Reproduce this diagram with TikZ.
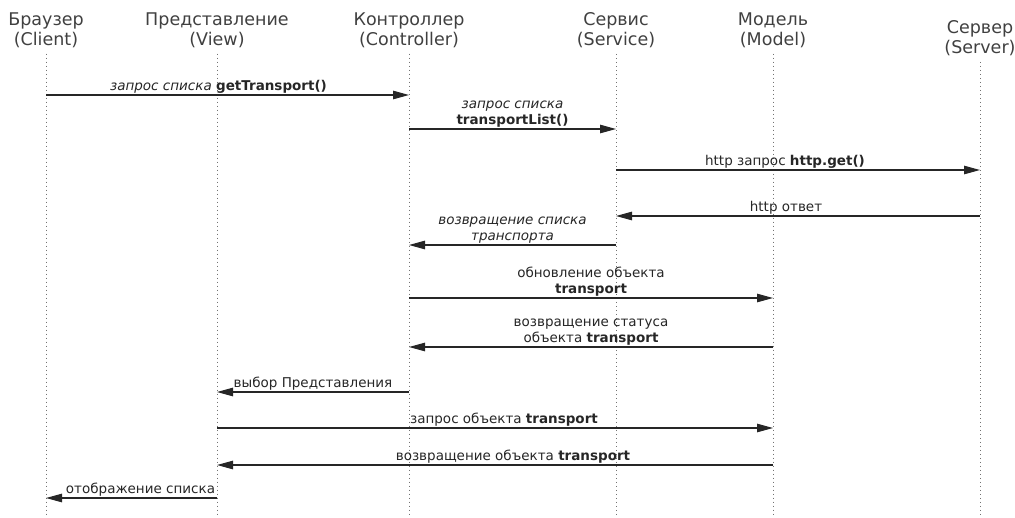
\documentclass[tikz,border=0pt]{standalone}
\usepackage{fontspec}
\setmainfont{DejaVu Sans}
\usetikzlibrary{positioning,calc,arrows.meta}
\tikzset{>={Triangle[length=16pt,width=8.5pt]}}
\tikzset{
  actor/.style={align=center,font=\fontsize{17.5}{20}\selectfont,text=black!75,inner sep=0pt},
  life/.style={dash pattern=on 1pt off 3pt,black!55,line width=0.9pt},
  msg/.style={->,line width=1.1pt,black!85},
  lbl/.style={font=\fontsize{13.5}{16.5}\selectfont,text=black!85,align=center,inner sep=1pt},
}

\begin{document}
\begin{tikzpicture}[x=1pt,y=-1pt]
\useasboundingbox (0,0) rectangle (1015,517);
\node[actor] (brw) at (46,30) {Браузер\\(Client)};
\node[actor] (view) at (217,30) {Представление\\(View)};
\node[actor] (ctl) at (409,30) {Контроллер\\(Controller)};
\node[actor] (srv) at (616,30) {Сервис\\(Service)};
\node[actor] (mdl) at (773,30) {Модель\\(Model)};
\node[actor] (web) at (980,38) {Сервер\\(Server)};
\foreach \a in {brw,view,ctl,srv,mdl,web}
  \draw[life] ([yshift=-6pt]\a.south) -- (\a.south |- 0,517);
\draw[msg] (brw |- 0,95) -- node[lbl,above,xshift=-9pt] {\itshape запрос списка \bfseries\upshape getTransport()} (ctl |- 0,95);
\draw[msg] (ctl |- 0,129) -- node[lbl,above] {\itshape запрос списка\\\bfseries transportList()} (srv |- 0,129);
\draw[msg] (srv |- 0,170) -- node[lbl,above,xshift=-13pt] {http запрос \bfseries http.get()} (web |- 0,170);
\draw[msg] (web |- 0,216) -- node[lbl,above,xshift=-12pt] {http ответ} (srv |- 0,216);
\draw[msg] (srv |- 0,245) -- node[lbl,above] {\itshape возвращение списка\\\itshape транспорта} (ctl |- 0,245);
\draw[msg] (ctl |- 0,298) -- node[lbl,above] {обновление объекта\\\bfseries transport} (mdl |- 0,298);
\draw[msg] (mdl |- 0,347) -- node[lbl,above] {возвращение статуса\\объекта \textbf{transport}} (ctl |- 0,347);
\draw[msg] (ctl |- 0,392) -- node[lbl,above] {выбор Представления} (view |- 0,392);
\draw[msg] (view |- 0,428) -- node[lbl,above,xshift=9pt] {запрос объекта \textbf{transport}} (mdl |- 0,428);
\draw[msg] (mdl |- 0,465) -- node[lbl,above,xshift=18pt] {возвращение объекта \textbf{transport}} (view |- 0,465);
\draw[msg] (view |- 0,498) -- node[lbl,above,xshift=9pt] {отображение списка} (brw |- 0,498);
\end{tikzpicture}
\end{document}
